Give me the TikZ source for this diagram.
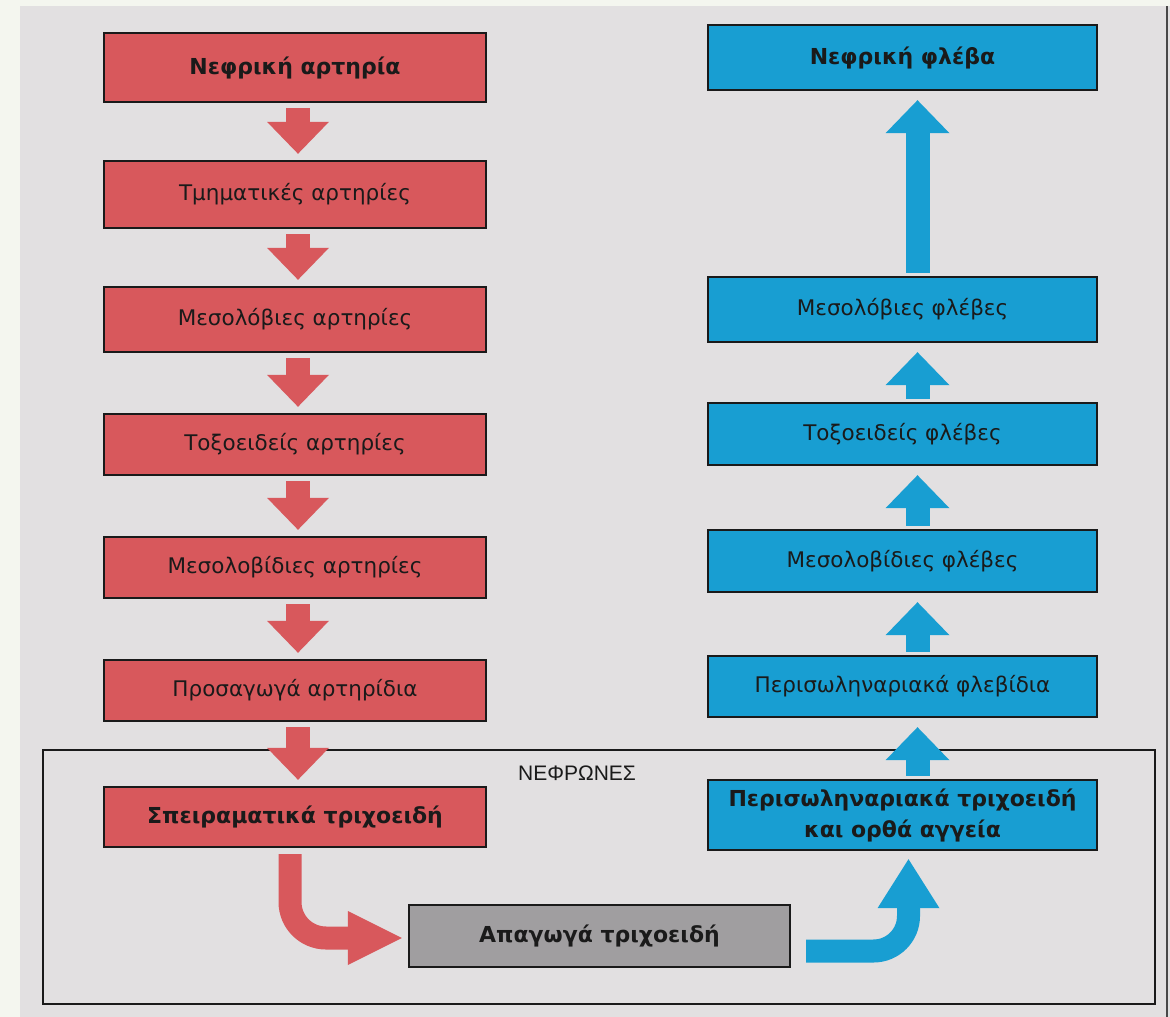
\documentclass[tikz,border=0pt]{standalone}
\usepackage{fontspec}
\setmainfont{DejaVu Sans}
\newfontfamily\labelfont{Liberation Sans}
\usetikzlibrary{arrows.meta,calc}
\definecolor{pagebg}{HTML}{E2E0E1}
\definecolor{stripbg}{HTML}{F4F6EF}
\definecolor{artred}{HTML}{D8585C}
\definecolor{veinblue}{HTML}{189ED2}
\definecolor{effgray}{HTML}{A09EA0}
\definecolor{inkline}{HTML}{1A1A1A}
\tikzset{
  flowbox/.style={draw=inkline, line width=2.4pt, inner sep=0pt, align=center,
    text=inkline, font=\fontsize{21.5}{26}\selectfont},
  artbox/.style={flowbox, fill=artred, minimum width=382pt},
  veinbox/.style={flowbox, fill=veinblue, minimum width=389pt},
  effbox/.style={flowbox, fill=effgray, minimum width=381pt},
  heavy/.style={font=\fontsize{22}{31}\selectfont\bfseries},
  redflow/.style={draw=artred, line width=24pt,
    -{Triangle[width=62pt,length=32pt,line width=0pt]}},
  blueflow/.style={draw=veinblue, line width=24pt,
    -{Triangle[width=64pt,length=33pt,line width=0pt]}},
}
\begin{document}
\begin{tikzpicture}[x=1pt,y=-1pt]
\useasboundingbox (0,0) rectangle (1170,1017);
\fill[pagebg] (0,0) rectangle (1170,1017);
\fill[stripbg] (0,0) rectangle (20,1017);
\fill[stripbg] (0,0) rectangle (1170,6);
\draw[inkline!80, line width=1.5pt] (1167,6) -- (1167,1017);

% nephron frame
\node (nephron) [draw=inkline, line width=2pt, minimum width=1112pt, minimum height=254pt, inner sep=0pt] at (599,877) {};
\node (nlabel) [text=inkline, font=\labelfont\fontsize{21}{25}\selectfont] at (577,773) {ΝΕΦΡΩΝΕΣ};

% arteries
\node (a1) [artbox, heavy, minimum height=69pt] at (295,67.5) {Νεφρική αρτηρία};
\node (a2) [artbox, minimum height=67pt] at (295,194.5) {Τμηματικές αρτηρίες};
\node (a3) [artbox, minimum height=65pt] at (295,319.5) {Μεσολόβιες αρτηρίες};
\node (a4) [artbox, minimum height=61pt] at (295,444.5) {Τοξοειδείς αρτηρίες};
\node (a5) [artbox, minimum height=61pt] at (295,567.5) {Μεσολοβίδιες αρτηρίες};
\node (a6) [artbox, minimum height=61pt] at (295,690.5) {Προσαγωγά αρτηρίδια};
\node (a7) [artbox, heavy, minimum height=60pt] at (295,817) {Σπειραματικά τριχοειδή};

% veins
\node (v1) [veinbox, heavy, minimum height=65pt] at (902.5,57.5) {Νεφρική φλέβα};
\node (v2) [veinbox, minimum height=65pt] at (902.5,309.5) {Μεσολόβιες φλέβες};
\node (v3) [veinbox, minimum height=62pt] at (902.5,434) {Τοξοειδείς φλέβες};
\node (v4) [veinbox, minimum height=62pt] at (902.5,561) {Μεσολοβίδιες φλέβες};
\node (v5) [veinbox, minimum height=61pt] at (902.5,686.5) {Περισωληναριακά φλεβίδια};
\node (v6) [veinbox, heavy, minimum height=70pt] at (902.5,815) {Περισωληναριακά τριχοειδή\\και ορθά αγγεία};

% efferent
\node (g) [effbox, heavy, minimum height=62pt] at (599.5,936) {Απαγωγά τριχοειδή};

% red arrows
\foreach \u/\w in {a1/a2,a2/a3,a3/a4,a4/a5,a5/a6,a6/a7}
  \draw[redflow] ($(\u.south)+(3,5)$) -- ($(\w.north)+(3,-6)$);
% blue arrows
\foreach \u/\w in {v2/v1,v3/v2,v4/v3,v5/v4,v6/v5}
  \draw[blueflow] ($(\u.north)+(15,-3)$) -- ($(\w.south)+(15,9)$);

% curved arrows
\draw[draw=artred, line width=23pt, rounded corners=36pt,
  -{Triangle[width=54pt,length=54pt,line width=0pt]}]
  ($(a7.south)+(-5,6)$) |- ($(g.west)+(-6,2)$);
\draw[draw=veinblue, line width=23pt, rounded corners=35pt,
  -{Triangle[width=62pt,length=49pt,line width=0pt]}]
  ($(g.east)+(15,15)$) -| ($(v6.south)+(6,8)$);
\end{tikzpicture}
\end{document}
